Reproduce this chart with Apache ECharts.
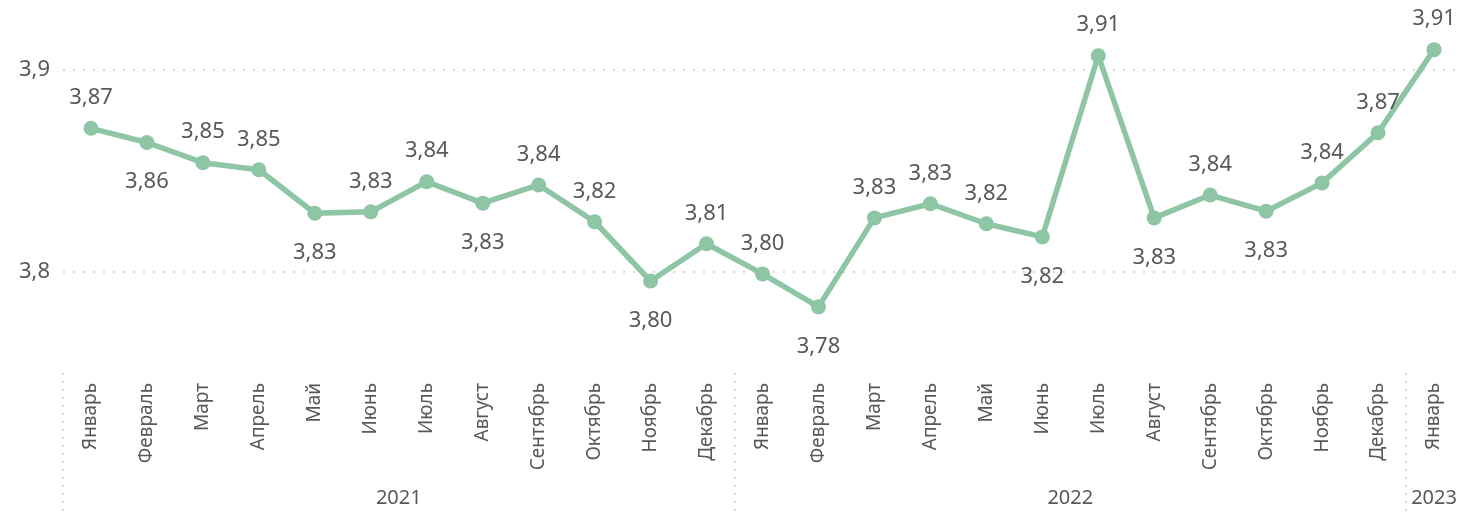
<!DOCTYPE html>
<html>
<head>
<meta charset="utf-8">
<script src="https://cdn.jsdelivr.net/npm/echarts@6/dist/echarts.min.js"></script>
<style>
html,body{margin:0;padding:0;background:#fff;}
#line{width:1473px;height:515px;}
</style>
</head>
<body>
<div id="line"></div>
<script>
// months (25 points, Jan 2021 .. Jan 2023)
const months = ['Январь','Февраль','Март','Апрель','Май','Июнь','Июль','Август','Сентябрь','Октябрь','Ноябрь','Декабрь',
  'Январь','Февраль','Март','Апрель','Май','Июнь','Июль','Август','Сентябрь','Октябрь','Ноябрь','Декабрь','Январь']
const years = ['2021','2022','2023']
const monthsPerYear = [12,12,1]
const values = [3.871,3.864,3.854,3.8505,3.829,3.8297,3.8446,3.834,3.843,3.8248,3.7955,3.8139,
  3.799,3.7827,3.8267,3.8337,3.8238,3.8173,3.9069,3.8267,3.838,3.830,3.844,3.8688,3.9099]
const yTicks = [3.8,3.9]
// label above (1) or below (0) the point
const labelAbove = [1,0,1,1,0,1,1,0,1,1,0,1,1,0,1,1,1,0,1,0,1,0,1,1,1]

const fmt = v => v.toFixed(2).replace('.', ',')
const textColor = '#595959'
const font = 'Noto Sans'

// year label centres and separators from monthsPerYear
let yearCenters = [], separators = [-0.5], acc = 0
monthsPerYear.forEach(n => {
  yearCenters.push(acc + (n - 1) / 2)
  acc += n
  if (acc < months.length) separators.push(acc - 0.5)
})

const seriesData = values.map((v, i) => ({
  value: v,
  label: labelAbove[i]
    ? {position: 'top', distance: 12}
    : {position: 'bottom', distance: 21}
}))

const option = {
  animation: false,
  grid: {left: 63, right: 11, top: 9, bottom: 142},
  xAxis: [
    {
      type: 'category',
      data: months,
      boundaryGap: true,
      axisLine: {show: false},
      axisTick: {show: false},
      axisLabel: {
        rotate: 90, margin: 10, interval: 0,
        color: textColor, fontSize: 19, fontFamily: font
      }
    },
    {
      type: 'value',
      position: 'bottom',
      min: -0.5, max: months.length - 0.5,
      splitLine: {show: false},
      axisLine: {show: false},
      axisTick: {
        show: true, length: 140, customValues: separators,
        lineStyle: {color: '#c8c8c8', type: [2, 6], width: 1.5}
      },
      axisLabel: {
        customValues: yearCenters, margin: 115,
        color: textColor, fontSize: 20, fontFamily: font,
        formatter: v => years[yearCenters.indexOf(v)]
      }
    }
  ],
  yAxis: {
    type: 'value',
    min: 3.75, max: 3.93, interval: 0.05,
    axisLine: {show: false},
    axisTick: {show: false},
    splitLine: {
      show: true,
      lineStyle: {color: ['transparent','#c8c8c8','transparent','#c8c8c8','transparent'], type: [2, 8], width: 1.5}
    },
    axisLabel: {
      margin: 13, color: textColor, fontSize: 22, fontFamily: font,
      formatter: v => yTicks.some(t => Math.abs(t - v) < 1e-6) ? String(Math.round(v * 10) / 10).replace('.', ',') : ''
    }
  },
  series: [{
    type: 'line',
    xAxisIndex: 0,
    data: seriesData,
    symbol: 'circle',
    symbolSize: 15,
    lineStyle: {color: '#8dc5a5', width: 5.5},
    itemStyle: {color: '#8dc5a5'},
    label: {
      show: true, color: textColor, fontSize: 22, fontFamily: font,
      formatter: p => fmt(p.value)
    }
  }]
}

const chart = echarts.init(document.getElementById('line'))
chart.setOption(option)
</script>
</body>
</html>
